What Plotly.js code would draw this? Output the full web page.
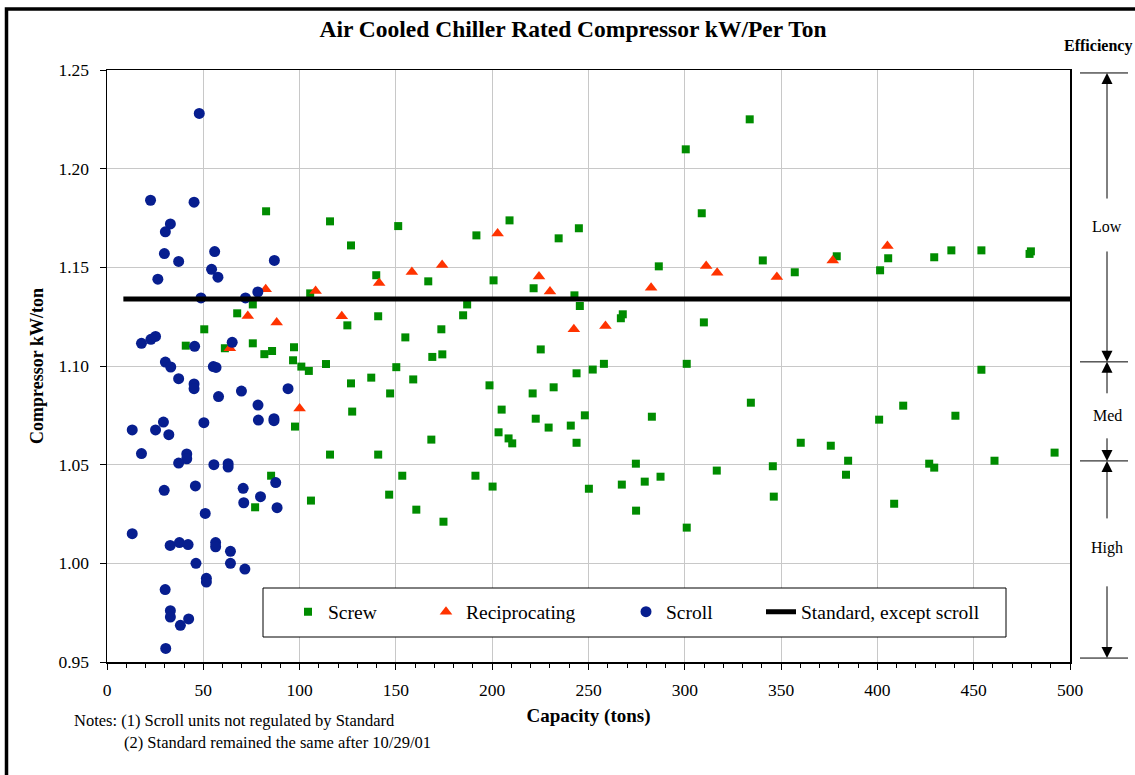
<!DOCTYPE html>
<html>
<head>
<meta charset="utf-8">
<script src="https://cdn.plot.ly/plotly-3.0.1.min.js"></script>
<style>
html,body{margin:0;padding:0;background:#fff;}
#chart{width:1135px;height:775px;}
</style>
</head>
<body>
<div id="chart"></div>
<script>
// ---- Data ----
const screwTons = [82.6,75.7,67.6,50.5,40.9,75.7,81.7,85.7,97.1,96.6,100.9,104.8,105.5,61.2,97.6,85.2,105.9,76.9,
  115.8,126.7,151.2,209.0,191.8,234.5,245.0,139.8,166.8,200.7,221.5,242.7,245.5,187.0,184.9,140.8,124.8,173.6,154.9,
  225.2,168.9,174.1,113.7,150.2,126.7,137.2,147.0,159.0,198.6,243.8,204.9,221.0,231.9,127.3,222.6,229.3,240.8,203.3,
  208.5,210.4,243.8,168.4,115.8,140.8,153.3,191.3,200.2,146.5,160.6,174.7,
  333.7,300.5,308.8,286.5,340.5,357.1,378.9,267.8,266.8,309.9,252.2,258.0,301.0,334.3,248.1,282.9,274.6,360.2,375.8,
  384.8,383.7,345.7,316.6,287.4,279.2,267.3,250.2,346.2,274.7,301.0,
  401.4,405.6,429.5,438.4,454.0,479.0,479.7,454.0,413.4,400.9,440.5,426.9,429.5,460.8,492.0,408.7];
const screwKw = [1.1784,1.1312,1.1267,1.1186,1.1103,1.1115,1.1060,1.1076,1.1095,1.1029,1.0997,1.0975,1.1368,1.1090,1.0693,1.0444,1.0318,1.0284,
  1.1733,1.1611,1.1709,1.1738,1.1662,1.1647,1.1698,1.1460,1.1429,1.1434,1.1394,1.1358,1.1304,1.1312,1.1257,1.1252,1.1206,1.1186,1.1145,
  1.1084,1.1046,1.1059,1.1010,1.0994,1.0912,1.0941,1.0861,1.0932,1.0902,1.0963,1.0779,1.0861,1.0892,1.0769,1.0733,1.0688,1.0698,1.0664,
  1.0633,1.0608,1.0611,1.0627,1.0551,1.0551,1.0444,1.0444,1.0389,1.0348,1.0272,1.0211,
  1.2250,1.2098,1.1774,1.1505,1.1535,1.1475,1.1556,1.1262,1.1242,1.1221,1.0982,1.1011,1.1011,1.0814,1.0750,1.0743,1.0505,1.0611,1.0596,
  1.0520,1.0449,1.0492,1.0470,1.0439,1.0414,1.0399,1.0378,1.0338,1.0267,1.0181,
  1.1485,1.1546,1.1551,1.1586,1.1586,1.1568,1.1581,1.0981,1.0799,1.0728,1.0748,1.0505,1.0485,1.0520,1.0561,1.0302];

const recipTons = [82.4,108.3,73.1,88.1,63.8,100.0,141.3,158.3,174.0,202.8,224.3,230.0,121.9,242.4,282.5,311.1,316.8,347.8,376.8,258.8,405.2];
const recipKw   = [1.1389,1.1380,1.1253,1.1220,1.1090,1.0785,1.1420,1.1476,1.1512,1.1672,1.1453,1.1377,1.1252,1.1186,1.1397,1.1507,1.1473,1.1451,1.1535,1.1203,1.1608];

const scrollTons = [47.9,22.6,45.2,32.9,30.3,29.8,55.9,37.2,54.3,57.6,86.9,26.4,78.3,48.8,71.9,17.9,22.8,25.2,45.5,65.0,
  30.3,33.1,55.2,56.6,37.2,45.2,45.2,57.9,69.8,94.0,78.4,29.3,50.3,13.1,25.2,32.1,78.6,86.7,86.7,17.9,
  41.4,41.4,37.2,55.5,62.9,62.9,45.9,29.7,70.7,87.6,79.7,71.0,88.3,51.0,13.1,32.8,37.6,42.1,56.4,56.4,
  64.1,46.2,64.1,71.6,51.6,51.6,30.2,32.9,32.9,42.4,38.1,30.5];
const scrollKw = [1.2280,1.1840,1.1830,1.1720,1.1680,1.1570,1.1580,1.1530,1.1490,1.1450,1.1535,1.1440,1.1375,1.1345,1.1345,1.1115,1.1135,1.1150,1.1100,1.1120,
  1.1020,1.0995,1.0997,1.0993,1.0936,1.0909,1.0885,1.0845,1.0873,1.0885,1.0802,1.0716,1.0713,1.0676,1.0676,1.0652,1.0726,1.0733,1.0723,1.0556,
  1.0554,1.0530,1.0508,1.0500,1.0505,1.0488,1.0392,1.0370,1.0380,1.0409,1.0338,1.0307,1.0282,1.0253,1.0150,1.0091,1.0105,1.0095,1.0105,1.0084,
  1.0061,1.0000,1.0000,0.9971,0.9924,0.9905,0.9867,0.9760,0.9728,0.9718,0.9686,0.9569];

const standardTons = [8.5, 500];
const standardKw = [1.134, 1.134];

const effBounds = [1.2485, 1.1021, 1.0519, 0.952];
const effLabels = ['Low', 'Med', 'High'];
const effLabelKw = [1.1705, 1.0747, 1.0079];
const effGaps = [[1.1841, 1.1588], [1.0854, 1.0641], [1.0220, 0.9891]];

const xTickVals = [0,50,100,150,200,250,300,350,400,450,500];
const yTickVals = [0.95,1.00,1.05,1.10,1.15,1.20,1.25];

// ---- Chart ----
const SERIF = '"Liberation Serif", "Times New Roman", serif';
const traces = [
  {x: screwTons, y: screwKw, type:'scatter', mode:'markers', name:'Screw', legend:'legend',
   marker:{symbol:'square', size:8, color:'#008c00'}},
  {x: recipTons, y: recipKw, type:'scatter', mode:'markers', name:'Reciprocating', legend:'legend2',
   marker:{symbol:'triangle-up', size:11, color:'#ff3300'}},
  {x: scrollTons, y: scrollKw, type:'scatter', mode:'markers', name:'Scroll', legend:'legend3',
   marker:{symbol:'circle', size:11, color:'#071e8f'}},
  {x: standardTons, y: standardKw, type:'scatter', mode:'lines', name:'Standard, except scroll', legend:'legend4',
   line:{color:'#000', width:5}}
];

const L = 107, R = 1070, T = 70, B = 662;
const W = R - L, H = B - T;
const px2x = p => (p - L) / W;
const py2y = p => (B - p) / H;

const legBase = {orientation:'h', yanchor:'middle', xanchor:'left', y: py2y(612),
  bgcolor:'rgba(0,0,0,0)', borderwidth:0, font:{family:SERIF, size:19.5, color:'#000'}};

const shapes = [
  {type:'rect', xref:'paper', yref:'paper', x0: px2x(6.5), x1: px2x(1142), y0: py2y(782), y1: py2y(9),
   line:{color:'#000', width:3.5}, fillcolor:'rgba(0,0,0,0)', layer:'below'},
  {type:'rect', xref:'paper', yref:'paper', x0: px2x(263), x1: px2x(1006), y0: py2y(637), y1: py2y(588),
   line:{color:'#000', width:1}, fillcolor:'#fff', layer:'above'}
];
effBounds.forEach(v => shapes.push({type:'line', xref:'paper', yref:'y', x0: px2x(1080), x1: px2x(1128), y0: v, y1: v,
  line:{color:'#000', width:1}}));

const ax = px2x(1107);
const annotations = [
  {text:'<b>Efficiency</b>', xref:'paper', yref:'paper', x: px2x(1062), y: py2y(46), showarrow:false,
   xanchor:'left', yanchor:'middle', font:{family:SERIF, size:16, color:'#000'}},
  {text:'Notes: (1) Scroll units not regulated by Standard', xref:'paper', yref:'paper', x: px2x(72), y: py2y(720),
   showarrow:false, xanchor:'left', yanchor:'middle', font:{family:SERIF, size:16.5, color:'#000'}},
  {text:'(2) Standard remained the same after 10/29/01', xref:'paper', yref:'paper', x: px2x(122), y: py2y(742),
   showarrow:false, xanchor:'left', yanchor:'middle', font:{family:SERIF, size:16.5, color:'#000'}}
];
effLabels.forEach((t, i) => {
  annotations.push({text:t, xref:'paper', yref:'y', x: ax, y: effLabelKw[i], showarrow:false,
    xanchor:'center', yanchor:'middle', font:{family:SERIF, size:16, color:'#000'}});
  annotations.push({text:'', xref:'paper', yref:'y', x: ax, y: effBounds[i], axref:'pixel', ax:0, ayref:'y', ay: effGaps[i][0],
    showarrow:true, arrowhead:2, arrowsize:2.2, arrowwidth:1, arrowcolor:'#000', standoff:0, startstandoff:0});
  annotations.push({text:'', xref:'paper', yref:'y', x: ax, y: effBounds[i+1], axref:'pixel', ax:0, ayref:'y', ay: effGaps[i][1],
    showarrow:true, arrowhead:2, arrowsize:2.2, arrowwidth:1, arrowcolor:'#000', standoff:0, startstandoff:0});
});

const layout = {
  width:1135, height:775,
  margin:{l:L, r:1135-R, t:T, b:775-B},
  paper_bgcolor:'#fff', plot_bgcolor:'#fff',
  font:{family:SERIF, color:'#000'},
  title:{text:'Air Cooled Chiller Rated Compressor kW/Per Ton', xref:'container', yref:'container',
    x: 573/1135, y: 1 - 29/775, xanchor:'center', yanchor:'middle',
    font:{family:SERIF, size:23.5, weight:'bold', color:'#000'}},
  xaxis:{range:[0,500], tickvals:xTickVals, ticks:'outside', ticklen:6, tickwidth:1, tickcolor:'#000',
    ticklabelstandoff:5,
    minor:{dtick:10, ticks:'outside', ticklen:4, tickcolor:'#000', showgrid:false},
    showgrid:true, gridcolor:'#c8c8c8', gridwidth:1, zeroline:false,
    showline:true, linecolor:'#000', linewidth:1.5, mirror:true,
    tickfont:{family:SERIF, size:17.5, color:'#000'},
    title:{text:'Capacity (tons)', standoff:10, font:{family:SERIF, size:19, weight:'bold', color:'#000'}}},
  yaxis:{range:[0.95,1.25], tickvals:yTickVals, tickformat:'.2f', ticks:'outside', ticklen:6, tickwidth:1, tickcolor:'#000',
    ticklabelstandoff:7,
    showgrid:true, gridcolor:'#c8c8c8', gridwidth:1, zeroline:false,
    showline:true, linecolor:'#000', linewidth:1.5, mirror:true,
    tickfont:{family:SERIF, size:17.5, color:'#000'},
    title:{text:'Compressor kW/ton', standoff:10, font:{family:SERIF, size:18, weight:'bold', color:'#000'}}},
  showlegend:true,
  legend: Object.assign({}, legBase, {x: px2x(288)}),
  legend2: Object.assign({}, legBase, {x: px2x(426)}),
  legend3: Object.assign({}, legBase, {x: px2x(626)}),
  legend4: Object.assign({}, legBase, {x: px2x(761)}),
  shapes: shapes,
  annotations: annotations
};

Plotly.newPlot('chart', traces, layout, {displayModeBar:false, staticPlot:true});
</script>
</body>
</html>
